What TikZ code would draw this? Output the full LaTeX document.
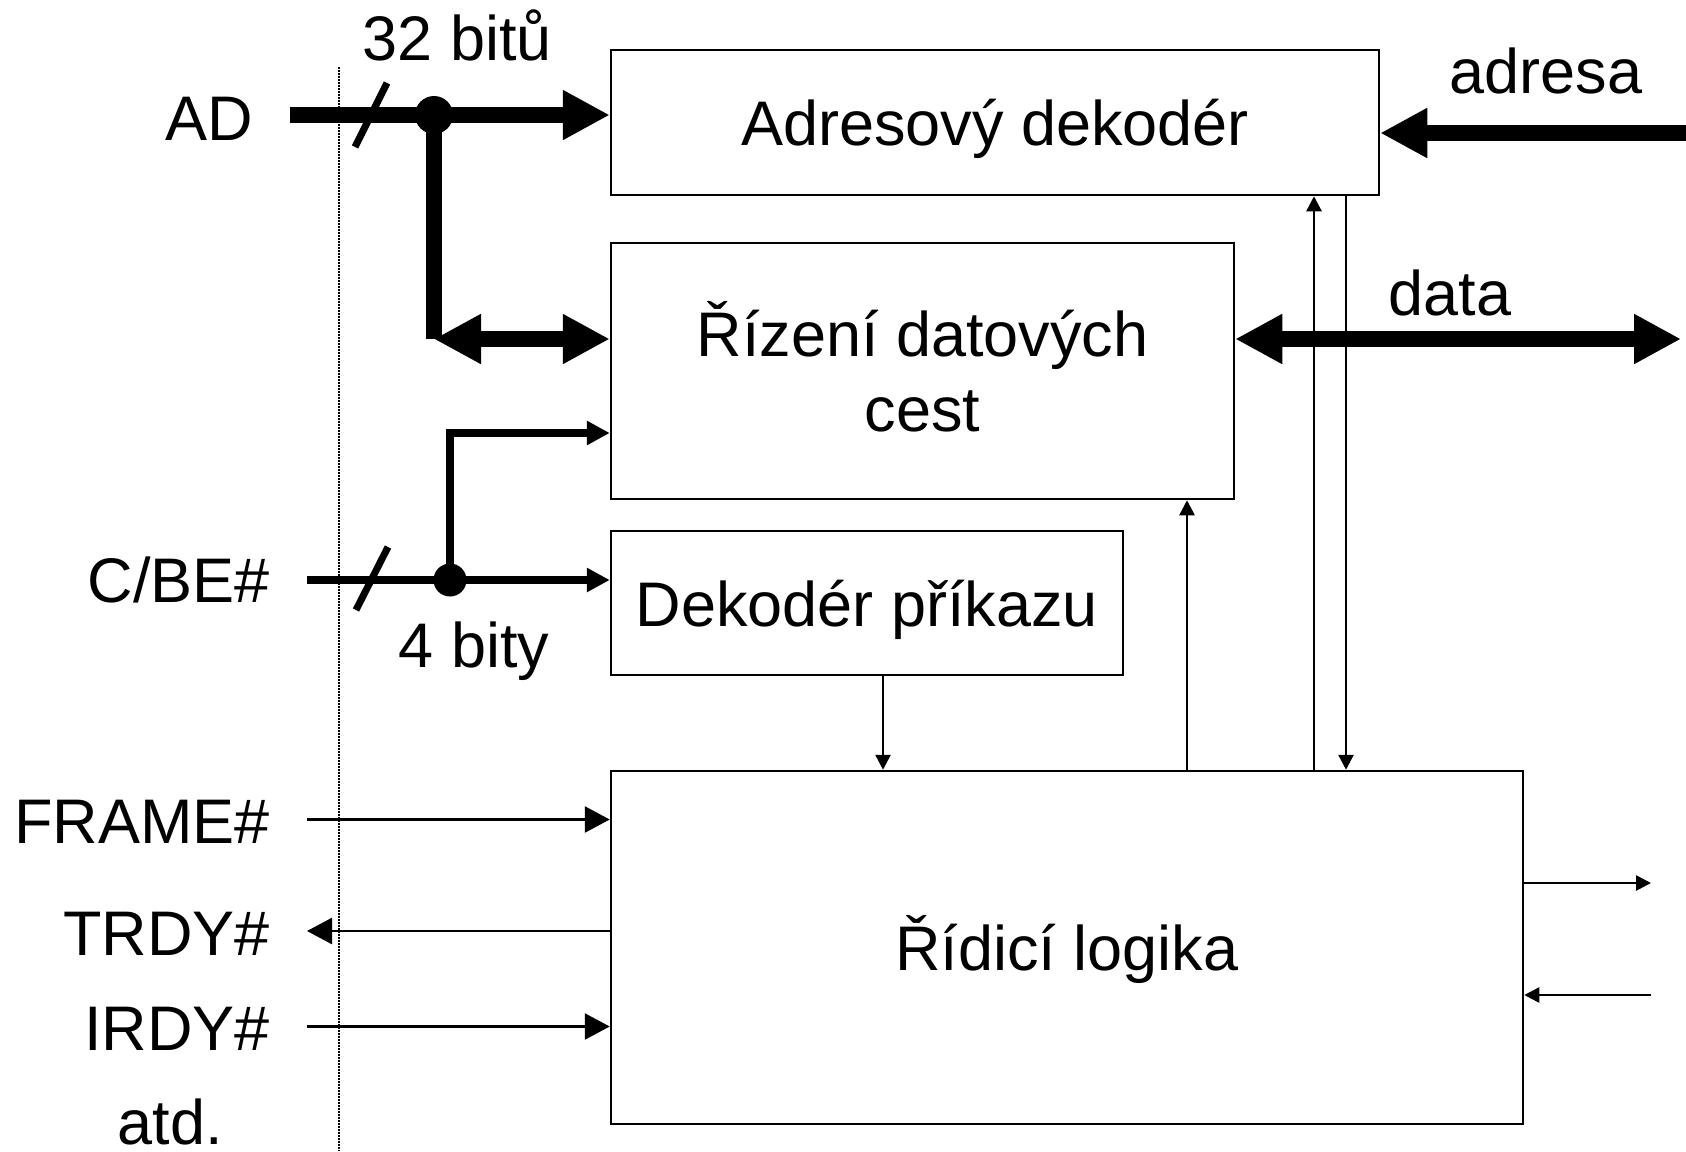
\documentclass[tikz,border=0pt]{standalone}
\usepackage{fontspec}
\setmainfont{Liberation Sans}
\usetikzlibrary{arrows.meta}

\begin{document}
\begin{tikzpicture}[
  x=0.5pt,y=-0.5pt,
  every node/.style={font=\fontsize{31.5}{37.5}\selectfont},
  blok/.style={draw,line width=1.25pt,inner sep=0pt,align=center,text height=23pt,text depth=0pt},
  popis/.style={inner sep=0pt,anchor=base},
  tecka/.style={circle,fill,inner sep=0pt},
  bus/.style={line width=7.75pt,>={Triangle[length=23.5pt,width=23.5pt]}},
  vedeni/.style={line width=4pt,>={Triangle[length=11.5pt,width=11.5pt]}},
  sig/.style={line width=1.3pt,>={Triangle[length=7.5pt,width=7.5pt]}},
  sigv/.style={line width=1.3pt,>={Triangle[length=12.5pt,width=13pt]}},
  lomitko/.style={line width=3.5pt}
]
\useasboundingbox (0,0) rectangle (1686,1151);

\node[blok,minimum width=384pt,minimum height=72.5pt] (adek) at (995,122.5) {Adresový dekodér};
\node[blok,minimum width=311.5pt,minimum height=128pt,text height=60.5pt] (rizeni) at (922.5,371) {Řízení datových\\cest};
\node[blok,minimum width=256pt,minimum height=72pt] (dekp) at (867,603) {Dekodér příkazu};
\node[blok,minimum width=456pt,minimum height=176.5pt] (logika) at (1067,947.5) {Řídicí logika};

\node[popis,anchor=base east] (tad) at (253,140) {AD};
\node[popis] (t32) at (457.5,60) {32 bitů};
\node[popis] (tadr) at (1546,93) {adresa};
\node[popis] (tdata) at (1450,315) {data};
\node[popis,anchor=base east] (tcbe) at (270,602) {C/BE\#};
\node[popis] (t4) at (474,667) {4 bity};
\node[popis,anchor=base east] (tframe) at (270,843) {FRAME\#};
\node[popis,anchor=base east] (ttrdy) at (270,955) {TRDY\#};
\node[popis,anchor=base east] (tirdy) at (270,1050.5) {IRDY\#};
\node[popis] (tatd) at (170,1144) {atd.};

\draw[line width=1.4pt,dash pattern=on 0.75pt off 0.75pt] (339,67) -- (339,1151);

% AD
\coordinate (adin) at (290,115);
\coordinate (adz) at (434,339);
\node[tecka,minimum size=19pt] (j1) at (434,115) {};
\draw[bus,->] (adin) -- (adin -| adek.west);
\draw[bus] (j1.center) -- (adz);
\draw[bus,<->] (adz) -- (adz -| rizeni.west);
\draw[lomitko] (387,83) -- (355,147);

\coordinate (adrin) at (1686,133);
\draw[bus,->] (adrin) -- (adrin -| adek.east);
\coordinate (dout) at (1681,339);
\draw[bus,<->] (rizeni.east |- dout) -- (dout);

% C/BE#
\coordinate (cbein) at (307,580);
\coordinate (cbez) at (450,433);
\node[tecka,minimum size=16.5pt] (j2) at (450,580) {};
\draw[vedeni,->] (cbein) -- (cbein -| dekp.west);
\draw[vedeni,->] (j2.center) -- (cbez) -- (cbez -| rizeni.west);
\draw[lomitko] (388,547) -- (356,610);

\coordinate (k1) at (883,0);
\coordinate (k2) at (1187,0);
\coordinate (k3) at (1314,0);
\coordinate (k4) at (1346,0);
\draw[sig,->] (k1 |- dekp.south) -- (k1 |- logika.north);
\draw[sig,->] (k2 |- logika.north) -- (k2 |- rizeni.south);
\draw[sig,->] (k3 |- logika.north) -- (k3 |- adek.south);
\draw[sig,->] (k4 |- adek.south) -- (k4 |- logika.north);

\coordinate (out1) at (1651,883);
\coordinate (in1) at (1651,995);
\draw[sig,->] (logika.east |- out1) -- (out1);
\draw[sig,->] (in1) -- (in1 -| logika.east);

\coordinate (cframe) at (307,819.5);
\coordinate (ctrdy) at (307,931);
\coordinate (cirdy) at (307,1026.5);
\draw[sigv,->] (cframe) -- (cframe -| logika.west);
\draw[sigv,->] (ctrdy -| logika.west) -- (ctrdy);
\draw[sigv,->] (cirdy) -- (cirdy -| logika.west);
\end{tikzpicture}
\end{document}
